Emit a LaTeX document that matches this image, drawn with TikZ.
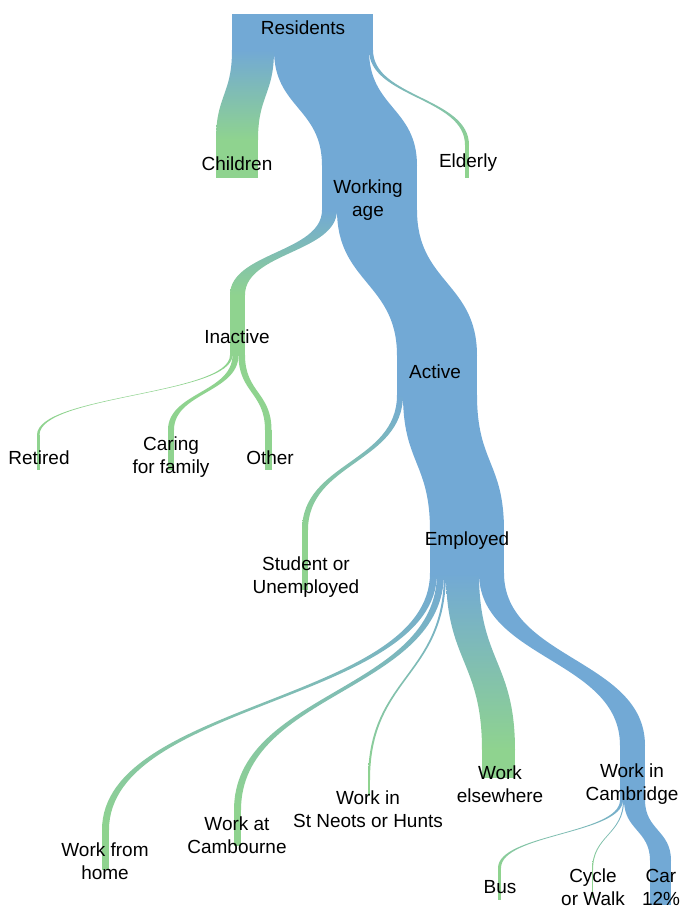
\documentclass[tikz,border=0pt]{standalone}
\usepackage{fontspec}
\setmainfont{Liberation Sans}
\usepackage{tikz}
\definecolor{sankeyblue}{RGB}{114,169,213}
\definecolor{sankeygreen}{RGB}{143,211,143}
\def\flow[#1](#2:#3)(#4:#5:#6){\path[#1] (#2,#3) .. controls (#2,{(#3+#5)/2}) and (#4,{(#3+#5)/2}) .. (#4,#5) -- ({#4+#6},#5) .. controls ({#4+#6},{(#3+#5)/2}) and ({#2+#6},{(#3+#5)/2}) .. ({#2+#6},#3) -- cycle;}

\begin{document}
\begin{tikzpicture}[x=0.02cm, y=-0.02cm,
	blueflow/.style={fill=sankeyblue},
	greenflow/.style={fill=sankeygreen},
	fadeflow/.style={top color=sankeyblue, bottom color=sankeygreen},
	lbl/.style={align=center, inner sep=0pt, font=\fontsize{10.8}{13}\selectfont}]
			%%%%% START %%%%%
			\useasboundingbox (0,0) rectangle (686,907);
			
			% residents
			\fill[sankeyblue] (232,14) rectangle (373,50.5);
			\flow[fadeflow](232:50)(216:140:42);
			\fill[sankeygreen] (216,139.5) rectangle (258,178);
			\flow[fadeflow](369:50)(465:145:4);
			\fill[sankeygreen] (465,144.5) rectangle (469,178);
			\flow[blueflow](274:50)(322:165.5:95);
			\fill[sankeyblue] (322,165) rectangle (417,210.5);
			
			% working age
			\flow[fadeflow](322:210)(230:295:15);
			\fill[sankeygreen] (230,294.5) rectangle (245,355.5);
			\flow[blueflow](337:210)(397:355.5:80);
			\fill[sankeyblue] (397,355) rectangle (477,395.5);
			
			% inactive
			\flow[greenflow](230:355)(37:435:2.5);
			\fill[sankeygreen] (37,434.5) rectangle (39.5,470);
			\flow[greenflow](232.5:355)(168:430:6);
			\fill[sankeygreen] (168,429.5) rectangle (174,470);
			\flow[greenflow](238.5:355)(265:430:6.5);
			\fill[sankeygreen] (265,429.5) rectangle (271.5,470);
			
			% active
			\flow[fadeflow](397:395)(302:530:6);
			\fill[sankeygreen] (302,529.5) rectangle (308,590);
			\flow[blueflow](403:395)(430:530.5:74);
			\fill[sankeyblue] (430,530) rectangle (504,573.5);
			
			% employed
			\flow[fadeflow](430:573)(102:830:7);
			\fill[sankeygreen] (102,829.5) rectangle (109,870);
			\flow[fadeflow](437:573)(234:810:7);
			\fill[sankeygreen] (234,809.5) rectangle (241,846);
			\flow[fadeflow](444:573)(368:780:2);
			\fill[sankeygreen] (368,779.5) rectangle (370,796);
			\flow[fadeflow](446:573)(482:750:33);
			\fill[sankeygreen] (482,749.5) rectangle (515,778);
			\flow[blueflow](479:573)(620:745.5:25);
			\fill[sankeyblue] (620,745) rectangle (645,800.5);
			
			% cambridge
			\flow[fadeflow](620:800)(498:868:3);
			\fill[sankeygreen] (498,867.5) rectangle (501,900);
			\flow[fadeflow](623:800)(592:870:1);
			\fill[sankeygreen] (592,869.5) rectangle (593,898);
			\flow[blueflow](624:800)(650:860.5:21);
			\fill[sankeyblue] (650,860) rectangle (671,905);
			
			% labels
			\node[lbl] (residents) at (303,28) {Residents};
			\node[lbl] (children) at (237,164) {Children};
			\node[lbl] (elderly) at (468,163) {Elderly};
			\node[lbl] (working) at (368,200) {Working\\age};
			\node[lbl] (inactive) at (237,337) {Inactive};
			\node[lbl] (active) at (435,372) {Active};
			\node[lbl] (retired) at (39,458) {Retired};
			\node[lbl] (caring) at (171,457) {Caring\\for family};
			\node[lbl] (other) at (270,458) {Other};
			\node[lbl] (student) at (306,577) {Student or\\Unemployed};
			\node[lbl] (employed) at (467,541) {Employed};
			\node[lbl] (home) at (105,861) {Work from\\home};
			\node[lbl] (cambourne) at (237,835) {Work at\\Cambourne};
			\node[lbl] (stneots) at (368,809) {Work in\\St Neots or Hunts};
			\node[lbl] (elsewhere) at (500,784) {Work\\elsewhere};
			\node[lbl] (cambridge) at (632,784) {Work in\\Cambridge};
			\node[lbl] (bus) at (500,887) {Bus};
			\node[lbl] (cycle) at (593,887) {Cycle\\or Walk};
			\node[lbl] (car) at (661,887) {Car\\12\%};
			
			%%%%% END %%%%%
\end{tikzpicture}
\end{document}
